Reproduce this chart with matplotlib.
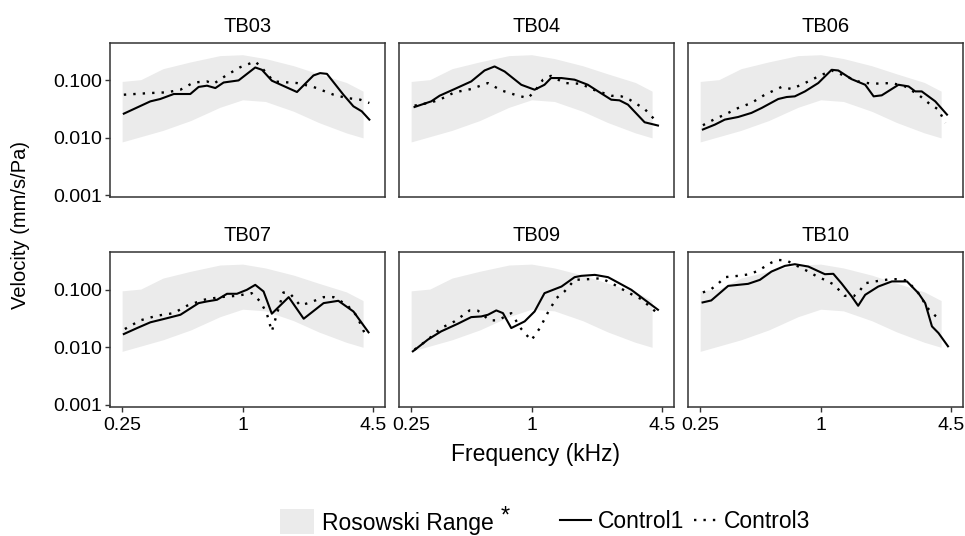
import matplotlib
matplotlib.use("Agg")
import matplotlib.pyplot as plt
from matplotlib.patches import Patch
from matplotlib.lines import Line2D

plt.rcParams['font.family'] = ['Liberation Sans', 'DejaVu Sans']

# Rosowski range (shared by every panel)
band_f = [0.25, 0.31, 0.40, 0.55, 0.77, 1.0, 1.3, 1.8, 2.4, 3.3, 4.0]
band_hi = [0.096, 0.103, 0.16, 0.21, 0.27, 0.28, 0.24, 0.18, 0.13, 0.092, 0.065]
band_lo = [0.0085, 0.0105, 0.0135, 0.020, 0.034, 0.046, 0.043, 0.029, 0.0185, 0.0122, 0.0100]

# TB03
tb03_f1 = [0.255, 0.346, 0.388, 0.453, 0.548, 0.603, 0.664, 0.731, 0.804, 0.955, 1.157, 1.249, 1.40, 1.87, 2.26, 2.44, 2.64, 3.19, 3.58, 3.94, 4.30]
tb03_v1 = [0.0264, 0.0432, 0.0475, 0.058, 0.058, 0.077, 0.081, 0.0736, 0.092, 0.100, 0.168, 0.153, 0.099, 0.0628, 0.122, 0.134, 0.130, 0.0564, 0.0354, 0.029, 0.0208]
tb03_f3 = [0.255, 0.346, 0.419, 0.489, 0.569, 0.664, 0.717, 0.836, 0.974, 1.157, 1.273, 1.43, 1.87, 2.26, 2.85, 3.32, 3.87, 4.30]
tb03_v3 = [0.0564, 0.0603, 0.062, 0.0689, 0.092, 0.096, 0.0875, 0.125, 0.170, 0.214, 0.153, 0.096, 0.090, 0.077, 0.0564, 0.0494, 0.0462, 0.0405]

# TB04
tb04_f1 = [0.260, 0.315, 0.347, 0.412, 0.499, 0.582, 0.653, 0.733, 0.888, 1.035, 1.16, 1.25, 1.41, 1.64, 1.91, 2.15, 2.50, 2.75, 3.03, 3.67, 4.28]
tb04_v1 = [0.0345, 0.0432, 0.0542, 0.0708, 0.096, 0.149, 0.175, 0.143, 0.084, 0.0689, 0.084, 0.110, 0.110, 0.103, 0.084, 0.0644, 0.0462, 0.045, 0.0379, 0.0187, 0.0164]
tb04_f3 = [0.260, 0.315, 0.347, 0.412, 0.499, 0.605, 0.705, 0.855, 0.959, 1.035, 1.14, 1.25, 1.46, 1.77, 1.99, 2.50, 2.81, 3.09, 3.67, 4.12]
tb04_v3 = [0.0364, 0.0415, 0.0462, 0.062, 0.0708, 0.090, 0.0671, 0.0542, 0.0494, 0.0644, 0.103, 0.12, 0.090, 0.0875, 0.0708, 0.0542, 0.0528, 0.0462, 0.0319, 0.0208]

# TB06
tb06_f1 = [0.258, 0.296, 0.332, 0.387, 0.451, 0.507, 0.614, 0.676, 0.743, 0.835, 0.973, 1.135, 1.225, 1.43, 1.67, 1.84, 2.02, 2.45, 2.75, 2.97, 3.2, 3.74, 4.28]
tb06_v1 = [0.014, 0.017, 0.0208, 0.0231, 0.0272, 0.0331, 0.0475, 0.0514, 0.0528, 0.0644, 0.090, 0.153, 0.149, 0.105, 0.084, 0.0528, 0.055, 0.084, 0.0787, 0.0644, 0.0644, 0.0432, 0.0254]
tb06_f3 = [0.258, 0.296, 0.332, 0.387, 0.451, 0.526, 0.638, 0.716, 0.835, 0.973, 1.135, 1.32, 1.54, 1.80, 2.27, 2.64, 3.08, 3.46, 3.88, 4.2]
tb06_v3 = [0.0166, 0.0213, 0.0254, 0.0331, 0.0405, 0.0564, 0.077, 0.0708, 0.090, 0.117, 0.149, 0.12, 0.096, 0.0875, 0.090, 0.0787, 0.0564, 0.0405, 0.031, 0.0182]

# TB07
tb07_f1 = [0.255, 0.297, 0.346, 0.403, 0.489, 0.603, 0.664, 0.745, 0.836, 0.937, 1.05, 1.157, 1.273, 1.40, 1.70, 2.02, 2.54, 3.01, 3.58, 4.26]
tb07_v1 = [0.017, 0.0216, 0.0272, 0.031, 0.0368, 0.0587, 0.0628, 0.0671, 0.0853, 0.0853, 0.1, 0.122, 0.0936, 0.0384, 0.0746, 0.0314, 0.0587, 0.0644, 0.042, 0.0182]
tb07_f3 = [0.258, 0.308, 0.373, 0.453, 0.527, 0.639, 0.774, 0.937, 1.11, 1.225, 1.32, 1.40, 1.48, 1.60, 1.73, 1.94, 2.18, 2.54, 2.85, 3.32, 3.72, 4.14]
tb07_v3 = [0.0208, 0.0294, 0.0354, 0.0393, 0.0528, 0.0671, 0.0746, 0.0787, 0.0875, 0.0628, 0.0393, 0.0189, 0.0368, 0.09, 0.0853, 0.0535, 0.0603, 0.0746, 0.0746, 0.055, 0.0354, 0.0155]

# TB09
tb09_f1 = [0.255, 0.303, 0.353, 0.428, 0.499, 0.56, 0.605, 0.666, 0.719, 0.791, 0.923, 1.035, 1.16, 1.41, 1.64, 1.77, 2.07, 2.41, 2.70, 3.15, 3.67, 4.28]
tb09_v1 = [0.0085, 0.0136, 0.0189, 0.0257, 0.0335, 0.0344, 0.0368, 0.0438, 0.0393, 0.0216, 0.0282, 0.042, 0.0875, 0.114, 0.166, 0.175, 0.182, 0.166, 0.134, 0.1, 0.0671, 0.045]
tb09_f3 = [0.260, 0.303, 0.353, 0.412, 0.49, 0.539, 0.617, 0.679, 0.791, 0.888, 0.996, 1.10, 1.207, 1.33, 1.46, 1.64, 1.91, 2.23, 2.60, 3.03, 3.53, 4.28]
tb09_v3 = [0.0091, 0.0136, 0.0216, 0.0282, 0.0438, 0.0433, 0.0294, 0.0294, 0.0393, 0.0208, 0.0132, 0.0216, 0.0405, 0.0716, 0.0936, 0.149, 0.153, 0.159, 0.122, 0.09, 0.0689, 0.0383]

# TB10
tb10_f1 = [0.257, 0.284, 0.345, 0.387, 0.434, 0.497, 0.568, 0.663, 0.743, 0.868, 1.05, 1.157, 1.27, 1.43, 1.54, 1.67, 1.94, 2.27, 2.70, 3.08, 3.33, 3.60, 3.88, 4.33]
tb10_v1 = [0.0603, 0.0653, 0.117, 0.122, 0.127, 0.149, 0.208, 0.261, 0.279, 0.254, 0.187, 0.19, 0.130, 0.0766, 0.0528, 0.0819, 0.114, 0.140, 0.140, 0.0875, 0.0587, 0.0231, 0.0177, 0.0104]
tb10_f3 = [0.258, 0.284, 0.307, 0.332, 0.387, 0.443, 0.488, 0.568, 0.614, 0.676, 0.803, 0.868, 0.973, 1.05, 1.157, 1.32, 1.46, 1.57, 1.67, 1.87, 2.22, 2.45, 2.70, 3.08, 3.27, 3.46, 3.74, 4.04]
tb10_v3 = [0.09, 0.103, 0.127, 0.166, 0.175, 0.187, 0.216, 0.298, 0.331, 0.323, 0.238, 0.208, 0.166, 0.149, 0.125, 0.0787, 0.0766, 0.097, 0.13, 0.14, 0.153, 0.153, 0.145, 0.0875, 0.0628, 0.0462, 0.0354, 0.0302]

titles = ["TB03", "TB04", "TB06", "TB07", "TB09", "TB10"]
control1 = [(tb03_f1, tb03_v1), (tb04_f1, tb04_v1), (tb06_f1, tb06_v1),
            (tb07_f1, tb07_v1), (tb09_f1, tb09_v1), (tb10_f1, tb10_v1)]
control3 = [(tb03_f3, tb03_v3), (tb04_f3, tb04_v3), (tb06_f3, tb06_v3),
            (tb07_f3, tb07_v3), (tb09_f3, tb09_v3), (tb10_f3, tb10_v3)]

xticks = [0.25, 1, 4.5]
xticklabels = ["0.25", "1", "4.5"]
yticks = [0.001, 0.01, 0.1]
yticklabels = ["0.001", "0.010", "0.100"]

band_color = "#ebebeb"
dotted = (0, (1, 3))

fig, axes = plt.subplots(2, 3, figsize=(9.65, 5.36), dpi=100)
plt.subplots_adjust(left=0.114, right=0.998, top=0.920, bottom=0.241, wspace=0.051, hspace=0.355)

for i, ax in enumerate(axes.flat):
    ax.fill_between(band_f, band_lo, band_hi, color=band_color, lw=0)
    ax.plot(control1[i][0], control1[i][1], color="black", lw=1.5)
    ax.plot(control3[i][0], control3[i][1], color="black", lw=1.7, linestyle=dotted)
    ax.set_xscale("log")
    ax.set_yscale("log")
    ax.set_xlim(0.2175, 5.15)
    ax.set_ylim(0.00092, 0.45)
    ax.set_title(titles[i], fontsize=14.5, pad=8)
    ax.minorticks_off()
    for sp in ax.spines.values():
        sp.set_color("#333333")
        sp.set_linewidth(1.1)
    ax.tick_params(length=3.5, width=1.0, color="#333333", labelsize=14, pad=2.5)
    ax.tick_params(axis="x", pad=3.5)
    row, col = divmod(i, 3)
    if col == 0:
        ax.set_yticks(yticks)
        ax.set_yticklabels(yticklabels)
    else:
        ax.set_yticks([])
    if row == 1:
        ax.set_xticks(xticks)
        ax.set_xticklabels(xticklabels)
    else:
        ax.set_xticks([])

fig.text(0.021, 1 - 225 / 536, "Velocity (mm/s/Pa)", rotation=90, ha="center", va="center", fontsize=14.5)
fig.text(0.555, 1 - 455 / 536, "Frequency (kHz)", ha="center", va="center", fontsize=16.5)

# legend: band key, then the two line keys (separate so each key gets its own width)
leg_y = 1 - 522 / 536
leg1 = fig.legend(handles=[Patch(facecolor=band_color, edgecolor="none")],
                  labels=["Rosowski Range"], loc="center left",
                  bbox_to_anchor=(269 / 965, leg_y), borderpad=0,
                  frameon=False, fontsize=16.5, handlelength=1.45, handleheight=1.3, handletextpad=0.35)
fig.text(505 / 965, 1 - 517 / 536, "*", ha="center", va="center", fontsize=17)
leg2 = fig.legend(handles=[Line2D([], [], color="black", lw=1.5)],
                  labels=["Control1"], loc="center left",
                  bbox_to_anchor=(549 / 965, leg_y), borderpad=0,
                  frameon=False, fontsize=16.5, handlelength=1.35, handletextpad=0.3)
leg3 = fig.legend(handles=[Line2D([], [], color="black", lw=1.7, linestyle=dotted)],
                  labels=["Control3"], loc="center left",
                  bbox_to_anchor=(683 / 965, leg_y), borderpad=0,
                  frameon=False, fontsize=16.5, handlelength=1.0, handletextpad=0.3)

plt.savefig("out.png", dpi=100)
